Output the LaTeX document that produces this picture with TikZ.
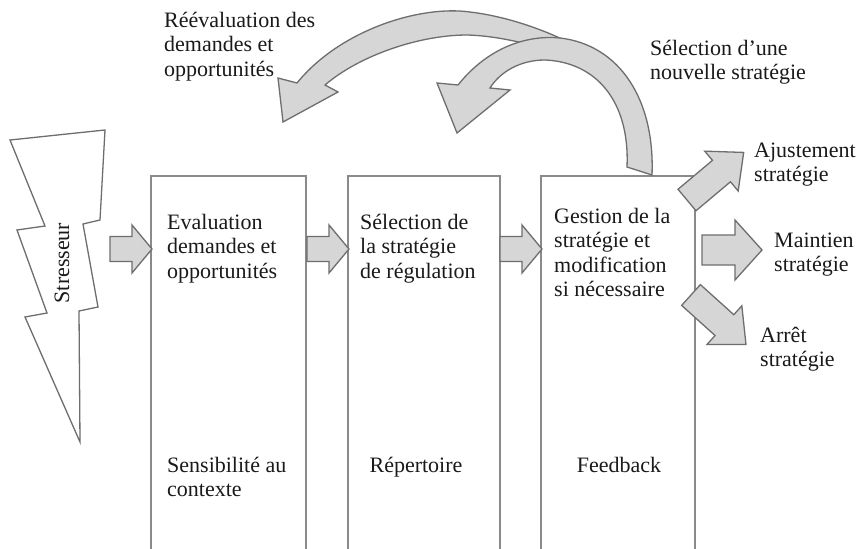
\documentclass[tikz,border=0pt]{standalone}
\usepackage{fontspec}
\setmainfont{Liberation Serif}
\definecolor{boxline}{HTML}{8A8A8A}
\definecolor{arrline}{HTML}{6E6E6E}
\definecolor{arrfill}{HTML}{D6D6D6}
\definecolor{txt}{HTML}{1A1A1A}
\newcommand\tf{\fontsize{22}{24.5}\selectfont}
\newcommand\mlines[1]{\begin{tabular}[t]{@{}l@{}}#1\end{tabular}}
\newcommand\blockarr[8]{% name, x, y, angle, L, Lh, w, hw
  \coordinate (#1) at (#2,#3);
  \draw[blk, shift={(#1)}, rotate=#4]
    (0,-#7) -- (#5-#6,-#7) -- (#5-#6,-#8) -- (#5,0) -- (#5-#6,#8) -- (#5-#6,#7) -- (0,#7) -- cycle;}
\begin{document}
\begin{tikzpicture}[x=1pt,y=-1pt,
  boxside/.style={draw=boxline, line width=1.8pt},
  blk/.style={draw=arrline, fill=arrfill, line width=1.3pt, line join=miter},
  lbl/.style={anchor=base west, inner sep=0pt, font=\tf, text=txt},
  bolt/.style={draw=arrline, fill=white, line width=1.3pt, line join=miter}]
\fill[white] (0,0) rectangle (860,549);
\useasboundingbox (0,0) rectangle (860,549);

% lightning bolt
\draw[bolt] (10,140) -- (105,130) -- (100,220) -- (83,224) -- (98,307) -- (79,311)
  -- (80,442) -- (25,317) -- (47,313) -- (17,230) -- (45,226) -- cycle;
\node[rotate=90, inner sep=0pt, font=\fontsize{22}{24}\selectfont, text=txt] (stress) at (62,263) {Stresseur};

% boxes (open at the bottom)
\coordinate (b1) at (151,176);
\coordinate (b2) at (348,176);
\coordinate (b3) at (541,176);
\draw[boxside] (151,552) -- (b1) -- (306,176) -- (306,552);
\draw[boxside] (348,552) -- (b2) -- (500,176) -- (500,552);
\draw[boxside] (541,552) -- (b3) -- (695,176) -- (695,552);

% straight block arrows
\blockarr{a1}{110}{249}{0}{42}{20}{12.5}{24}
\blockarr{a2}{307}{249}{0}{42}{20}{12.5}{24}
\blockarr{a3}{500}{249}{0}{42}{20}{12.5}{24}
\blockarr{a4}{702}{250}{0}{60}{27}{15}{30}
\blockarr{a5}{687}{200}{40}{74}{29}{14}{26}
\blockarr{a6}{691}{295}{-42}{74}{29}{14}{26}

% curved arrow: re-evaluation (behind)
\draw[blk] (297,83) .. controls (340,30) and (420,5) .. (470,12)
  .. controls (520,18) and (570,40) .. (600,60) -- (560,52)
  .. controls (540,48) and (505,36) .. (467,35)
  .. controls (420,35) and (360,55) .. (325,85)
  -- (338,92) -- (283,122) -- (278,78) -- cycle;
% curved arrow: new strategy (front)
\draw[blk] (458,85) .. controls (490,45) and (530,35) .. (560,38)
  .. controls (620,45) and (655,100) .. (652,175) -- (627,167)
  .. controls (630,100) and (595,62) .. (545,60)
  .. controls (520,60) and (500,72) .. (490,88)
  -- (510,90) -- (457,133) -- (437,83) -- cycle;

% texts
\node[lbl] (reev) at (164,27) {\mlines{Réévaluation des\\demandes et\\opportunités}};
\node[lbl] (nouv) at (650,55) {\mlines{Sélection d'une\\nouvelle stratégie}};
\node[lbl] (t1) at (167,229) {\mlines{Evaluation\\demandes et\\opportunités}};
\node[lbl] (t2) at (360,229) {\mlines{Sélection de\\la stratégie\\de régulation}};
\node[lbl] (t3) at (554,223) {\mlines{Gestion de la\\stratégie et\\modification\\si nécessaire}};
\node[lbl] (s1) at (167,472) {\mlines{Sensibilité au\\contexte}};
\node[lbl, anchor=base] (s2) at (416,472) {Répertoire};
\node[lbl, anchor=base] (s3) at (619,472) {Feedback};
\node[lbl] (o1) at (754,157) {\mlines{Ajustement\\stratégie}};
\node[lbl] (o2) at (774,247) {\mlines{Maintien\\stratégie}};
\node[lbl] (o3) at (760,342) {\mlines{Arrêt\\stratégie}};
\end{tikzpicture}
\end{document}
